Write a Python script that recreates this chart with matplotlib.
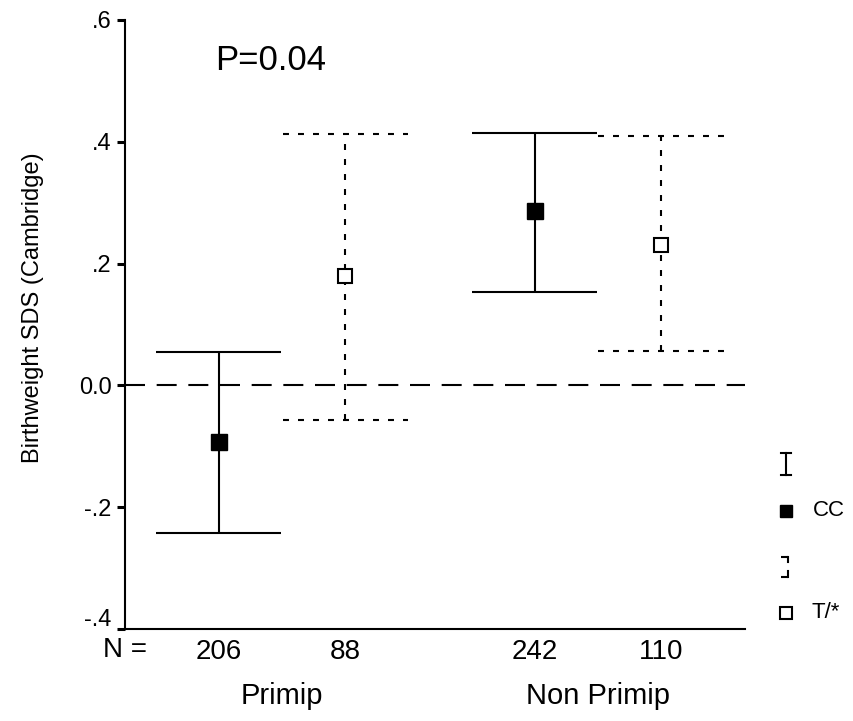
import matplotlib
matplotlib.use('Agg')
import matplotlib.pyplot as plt
from matplotlib.lines import Line2D
from matplotlib.transforms import ScaledTranslation

# ---- data ----
groups = ['Primip', 'Non Primip']
series = ['CC', 'T/*']
n_labels = ['206', '88', '242', '110']
cc_mean = [-0.093, 0.287]
cc_upper = [0.055, 0.415]
cc_lower = [-0.243, 0.154]
t_mean = [0.179, 0.231]
t_upper = [0.413, 0.410]
t_lower = [-0.056, 0.056]
p_text = 'P=0.04'
ytick_values = [-0.4, -0.2, 0.0, 0.2, 0.4, 0.6]
ytick_labels = ['-.4', '-.2', '0.0', '.2', '.4', '.6']
ylabel = 'Birthweight SDS (Cambridge)'

plt.rcParams['font.family'] = ['Liberation Sans', 'DejaVu Sans']
plt.rcParams['lines.scale_dashes'] = False

W, H = 854, 721
fig = plt.figure(figsize=(W / 100, H / 100), dpi=100)
ax = fig.add_axes([125 / W, 1 - 629 / H, 620 / W, (629 - 20) / H])

group_pos = [1.0, 3.5]
cc_pos = [g for g in group_pos]
t_pos = [g + 1.0 for g in group_pos]
cap = 0.495
lw = 1.5
dotted = (0, (4.3, 6.5))

ax.axhline(0.0, color='black', lw=lw, linestyle=(0, (14.4, 8.4)), zorder=1)

# CC (solid)
ax.vlines(cc_pos, cc_lower, cc_upper, color='black', lw=lw, zorder=2)
ax.hlines(cc_upper, [p - cap for p in cc_pos], [p + cap for p in cc_pos], color='black', lw=lw, zorder=2)
ax.hlines(cc_lower, [p - cap for p in cc_pos], [p + cap for p in cc_pos], color='black', lw=lw, zorder=2)
ax.plot(cc_pos, cc_mean, linestyle='none', marker='s', markersize=11, color='black', zorder=3)

# T/* (dotted)
ax.vlines(t_pos, t_lower, t_upper, color='black', lw=lw, linestyle=dotted, zorder=2)
ax.hlines(t_upper, [p - cap for p in t_pos], [p + cap for p in t_pos], color='black', lw=lw, linestyle=dotted, zorder=2)
ax.hlines(t_lower, [p - cap for p in t_pos], [p + cap for p in t_pos], color='black', lw=lw, linestyle=dotted, zorder=2)
ax.plot(t_pos, t_mean, linestyle='none', marker='s', markersize=10, markerfacecolor='white',
        markeredgecolor='black', markeredgewidth=1.5, zorder=3)

ax.set_xlim(0.256, 5.165)
ax.set_ylim(-0.4, 0.6)
ax.set_yticks(ytick_values)
ax.set_yticklabels(ytick_labels)
ax.tick_params(axis='y', direction='out', length=6, width=2.2, pad=3.5, labelsize=17)
# lowest tick label sits slightly above its tick, as in the reference
lab = ax.get_yticklabels()[0]
lab.set_transform(lab.get_transform() + ScaledTranslation(0, 0.11, fig.dpi_scale_trans))

positions = []
for c, t in zip(cc_pos, t_pos):
    positions += [c, t]
ax.set_xticks(positions)
ax.set_xticklabels(n_labels)
ax.tick_params(axis='x', length=0, pad=7, labelsize=20)

for s in ['top', 'right']:
    ax.spines[s].set_visible(False)
for s in ['left', 'bottom']:
    ax.spines[s].set_linewidth(1.5)

# N = label
ax.text(0.256, -0.034, 'N =', transform=ax.get_xaxis_transform(), ha='center', va='center', fontsize=20)

# group labels
for g, name in zip(group_pos, groups):
    ax.text(g + 0.5, -0.11, name, transform=ax.get_xaxis_transform(), ha='center', va='center', fontsize=21)

# P text
fig.text(271 / W, 1 - 60 / H, p_text, ha='center', va='center', fontsize=25)

# y label
fig.text(33 / W, 1 - 308 / H, ylabel, rotation=90, ha='center', va='center', fontsize=17)


def fp(x, y):
    return x / W, 1 - y / H


def seg(x1, y1, x2, y2, ls='-'):
    (a, b), (c, d) = fp(x1, y1), fp(x2, y2)
    fig.add_artist(Line2D([a, c], [b, d], transform=fig.transFigure, color='black', lw=1.5, linestyle=ls))


# legend
seg(786, 453, 786, 475)
seg(781, 453, 791, 453)
seg(781, 475, 791, 475)
mx, my = fp(786, 511)
fig.add_artist(Line2D([mx], [my], transform=fig.transFigure, marker='s', markersize=9, color='black', linestyle='none'))
fig.text(813 / W, 1 - 511 / H, series[0], ha='left', va='center', fontsize=16)

seg(781, 557, 788, 557, ls=(0, (5, 3)))
seg(788, 557, 788, 562)
seg(788, 571, 788, 577)
seg(781, 577, 788, 577, ls=(0, (5, 3)))
mx, my = fp(786, 613)
fig.add_artist(Line2D([mx], [my], transform=fig.transFigure, marker='s', markersize=9, markerfacecolor='white',
                      markeredgecolor='black', markeredgewidth=1.5, linestyle='none'))
fig.text(812 / W, 1 - 612 / H, series[1], ha='left', va='center', fontsize=16)

fig.savefig('out.png', dpi=100)
